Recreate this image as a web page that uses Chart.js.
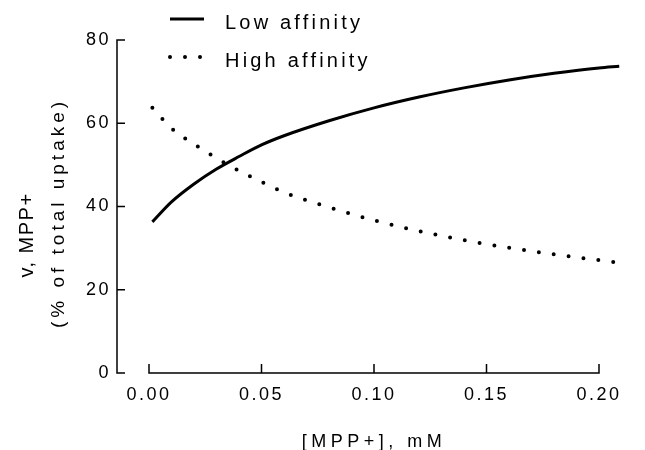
<!DOCTYPE html>
<html>
<head>
<meta charset="utf-8">
<title>MPP+ uptake</title>
<script src="https://cdn.jsdelivr.net/npm/chart.js@4.4.1/dist/chart.umd.min.js"></script>
<style>
  html, body { margin: 0; padding: 0; background: #fff; }
</style>
</head>
<body>
<canvas id="myChart" width="645" height="450"></canvas>
<script>
// [MPP+] in mM and share of total uptake (%) for each transport component
var conc = [0.0015, 0.01, 0.02, 0.03, 0.04, 0.05, 0.06, 0.08, 0.10, 0.12, 0.14, 0.16, 0.18, 0.20, 0.209];
var lowAffinity = [36.3, 41.1, 45.4, 49.0, 52.0, 54.8, 57.0, 60.6, 63.7, 66.3, 68.5, 70.4, 72.0, 73.3, 73.7];
var highAffinity = [63.7, 58.8, 55.0, 51.6, 48.6, 45.9, 43.4, 39.8, 36.7, 34.1, 31.9, 30.1, 28.5, 27.1, 26.5];

var xTicks = [0, 0.05, 0.10, 0.15, 0.20];
var yTicks = [0, 20, 40, 60, 80];
var seriesNames = ['Low affinity', 'High affinity'];
var xTitle = '[MPP+], mM';
var yTitle = ['v, MPP+', '(% of total uptake)'];

var FONT = '"Liberation Sans", Arial, sans-serif';
Chart.defaults.font.family = FONT;
Chart.defaults.color = '#000';

function pairs(xs, ys) {
    return xs.map(function (x, i) { return { x: x, y: ys[i] }; });
}

// axes are drawn by hand: offset y axis, inward ticks, spaced-out lettering
var paperAxes = {
    id: 'paperAxes',
    beforeDraw: function (chart) {
        chart.ctx.letterSpacing = '2.5px';
    },
    afterDraw: function (chart) {
        var ctx = chart.ctx;
        var xs = chart.scales.x, ys = chart.scales.y;
        var x0 = xs.getPixelForValue(xTicks[0]);
        var x1 = xs.getPixelForValue(xTicks[xTicks.length - 1]);
        var yb = ys.getPixelForValue(yTicks[0]);
        var yt = ys.getPixelForValue(yTicks[yTicks.length - 1]);
        var axisX = x0 - 32;

        ctx.save();
        ctx.strokeStyle = '#000';
        ctx.lineWidth = 1.5;
        ctx.beginPath();
        ctx.moveTo(axisX, yt - 0.75);
        ctx.lineTo(axisX, yb + 0.75);
        yTicks.forEach(function (v) {
            var p = ys.getPixelForValue(v);
            ctx.moveTo(axisX, p);
            ctx.lineTo(axisX + 8, p);
        });
        ctx.moveTo(x0 - 0.75, yb);
        ctx.lineTo(x1 + 0.75, yb);
        xTicks.forEach(function (v) {
            var p = xs.getPixelForValue(v);
            ctx.moveTo(p, yb);
            ctx.lineTo(p, yb - 9);
        });
        ctx.stroke();

        ctx.fillStyle = '#000';
        ctx.textBaseline = 'alphabetic';
        ctx.textAlign = 'center';

        // x title
        ctx.letterSpacing = '4.5px';
        ctx.font = '18px ' + FONT;
        ctx.fillText(xTitle, (x0 + x1) / 2, 447);

        // y title, two lines
        ctx.save();
        ctx.translate(33, 235);
        ctx.rotate(-Math.PI / 2);
        ctx.letterSpacing = '1.5px';
        ctx.font = '20px ' + FONT;
        ctx.fillText(yTitle[0], 0, 0);
        ctx.restore();

        ctx.save();
        ctx.translate(64, 213);
        ctx.rotate(-Math.PI / 2);
        ctx.letterSpacing = '4px';
        ctx.font = '19px ' + FONT;
        ctx.fillText(yTitle[1], 0, 0);
        ctx.restore();

        // legend
        ctx.textAlign = 'left';
        ctx.letterSpacing = '3.2px';
        ctx.font = '20px ' + FONT;
        var rows = [yt - 21, yt + 17];
        chart.data.datasets.forEach(function (ds, i) {
            var ly = rows[i];
            ctx.save();
            ctx.lineWidth = ds.borderWidth;
            ctx.lineCap = ds.borderCapStyle || 'butt';
            ctx.setLineDash(ds.borderDash || []);
            ctx.beginPath();
            ctx.moveTo(x0 + 21, ly);
            ctx.lineTo(x0 + 55, ly);
            ctx.stroke();
            ctx.restore();
            ctx.fillText(ds.label, x0 + 76, ly + 10);
        });
        ctx.restore();
    }
};

var ctx = document.getElementById('myChart').getContext('2d');
var chart = new Chart(ctx, {
    type: 'line',
    data: {
        datasets: [
            {
                label: seriesNames[0],
                data: pairs(conc, lowAffinity),
                borderColor: '#000',
                borderWidth: 3,
                pointRadius: 0,
                cubicInterpolationMode: 'monotone',
                clip: false
            },
            {
                label: seriesNames[1],
                data: pairs(conc, highAffinity),
                borderColor: '#000',
                borderWidth: 4,
                borderDash: [0, 15],
                borderCapStyle: 'round',
                pointRadius: 0,
                cubicInterpolationMode: 'monotone',
                clip: false
            }
        ]
    },
    options: {
        responsive: false,
        animation: false,
        layout: { padding: { top: 40, right: 23.5, bottom: 0, left: 0 } },
        plugins: {
            legend: { display: false },
            tooltip: { enabled: false }
        },
        scales: {
            x: {
                type: 'linear',
                min: 0,
                max: 0.21,
                grid: { display: false, drawTicks: false },
                border: { display: false },
                afterBuildTicks: function (s) {
                    s.ticks = xTicks.map(function (v) { return { value: v }; });
                },
                afterFit: function (s) { s.height = 77; },
                ticks: {
                    padding: 11,
                    maxRotation: 0,
                    autoSkip: false,
                    font: { size: 18 },
                    callback: function (v) { return Number(v).toFixed(2); }
                }
            },
            y: {
                min: 0,
                max: 80,
                grid: { display: false, drawTicks: false },
                border: { display: false },
                afterBuildTicks: function (s) {
                    s.ticks = yTicks.map(function (v) { return { value: v }; });
                },
                afterFit: function (s) {
                    s.width = 149;
                    s.paddingTop = 0;
                    s.paddingBottom = 0;
                },
                ticks: {
                    padding: 38,
                    font: { size: 18 }
                }
            }
        }
    },
    plugins: [paperAxes]
});
</script>
</body>
</html>
